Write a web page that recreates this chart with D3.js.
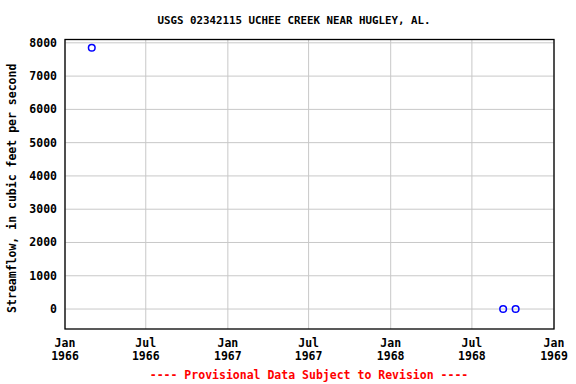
<!DOCTYPE html>
<html>
<head>
<meta charset="utf-8" />
<title>USGS 02342115 UCHEE CREEK NEAR HUGLEY, AL.</title>
<style>
  body { margin: 0; background: #fff; }
  text { font-family: "DejaVu Sans Mono", monospace; font-weight: bold; }
</style>
</head>
<body>
<svg id="chart" width="576" height="384"></svg>
<script src="https://d3js.org/d3.v7.min.js"></script>
<script>
var dates = ["1966-03-02", "1968-09-09", "1968-10-07"];
var flows = [7850, 3, 3];

var yTicks = [0, 1000, 2000, 3000, 4000, 5000, 6000, 7000, 8000];
var xTicks = ["1966-01-01", "1966-07-01", "1967-01-01", "1967-07-01", "1968-01-01", "1968-07-01", "1969-01-01"];

var parse = d3.timeParse("%Y-%m-%d");
var points = dates.map(function(d, i) { return { date: parse(d), flow: flows[i] }; });

var plotL = 65, plotR = 554, plotT = 39.5, plotB = 329;
var svg = d3.select("#chart");

var x = d3.scaleTime()
  .domain([parse("1966-01-01"), parse("1969-01-01")])
  .range([plotL, plotR]);
var y = d3.scaleLinear()
  .domain([-600, 8100])
  .range([plotB, plotT]);

// grid
svg.append("g").selectAll("line")
  .data(xTicks.map(parse))
  .enter().append("line")
  .attr("x1", function(d) { return x(d); })
  .attr("x2", function(d) { return x(d); })
  .attr("y1", plotT).attr("y2", plotB)
  .attr("stroke", "#c8c8c8").attr("stroke-width", 1);
svg.append("g").selectAll("line")
  .data(yTicks)
  .enter().append("line")
  .attr("x1", plotL).attr("x2", plotR)
  .attr("y1", function(d) { return y(d); })
  .attr("y2", function(d) { return y(d); })
  .attr("stroke", "#c8c8c8").attr("stroke-width", 1);

// frame
svg.append("rect")
  .attr("x", plotL).attr("y", plotT)
  .attr("width", plotR - plotL).attr("height", plotB - plotT)
  .attr("fill", "none").attr("stroke", "#000").attr("stroke-width", 1.3);

// y tick labels
svg.append("g").selectAll("text")
  .data(yTicks)
  .enter().append("text")
  .attr("x", 57)
  .attr("y", function(d) { return y(d) + 4; })
  .attr("text-anchor", "end")
  .attr("font-size", 11.5)
  .text(function(d) { return d; });

// x tick labels
var fmtMon = d3.timeFormat("%b"), fmtYr = d3.timeFormat("%Y");
var xl = svg.append("g").selectAll("text")
  .data(xTicks.map(parse))
  .enter().append("text")
  .attr("text-anchor", "middle")
  .attr("font-size", 11.5);
xl.append("tspan")
  .attr("x", function(d) { return x(d); })
  .attr("y", 347)
  .text(function(d) { return fmtMon(d); });
xl.append("tspan")
  .attr("x", function(d) { return x(d); })
  .attr("y", 360)
  .text(function(d) { return fmtYr(d); });

// points
svg.append("g").selectAll("circle")
  .data(points)
  .enter().append("circle")
  .attr("cx", function(d) { return x(d.date); })
  .attr("cy", function(d) { return y(d.flow); })
  .attr("r", 3.3)
  .attr("fill", "none")
  .attr("stroke", "#0000ff")
  .attr("stroke-width", 1.5);

// title
svg.append("text")
  .attr("x", 294).attr("y", 24)
  .attr("text-anchor", "middle")
  .attr("font-size", 10.8)
  .text("USGS 02342115 UCHEE CREEK NEAR HUGLEY, AL.");

// y axis title
svg.append("text")
  .attr("transform", "translate(16," + ((plotT + plotB) / 2 + 4) + ") rotate(-90)")
  .attr("text-anchor", "middle")
  .attr("font-size", 11.5)
  .text("Streamflow, in cubic feet per second");

// footer
svg.append("text")
  .attr("x", 309).attr("y", 379)
  .attr("text-anchor", "middle")
  .attr("font-size", 11.5)
  .attr("fill", "#ff0000")
  .text("---- Provisional Data Subject to Revision ----");
</script>
</body>
</html>
